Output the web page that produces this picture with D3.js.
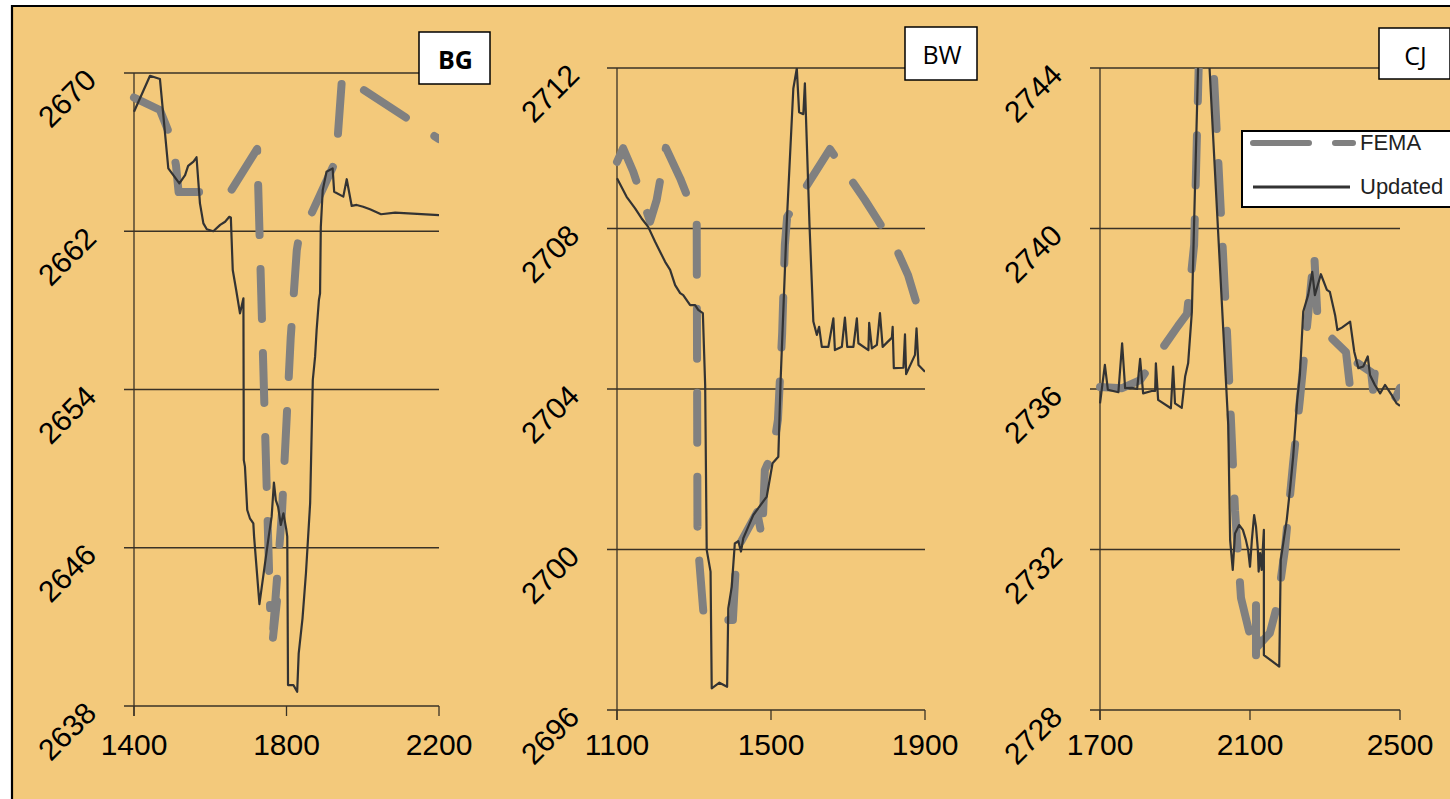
<!DOCTYPE html>
<html>
<head>
<meta charset="utf-8">
<script src="https://cdn.jsdelivr.net/npm/d3@7"></script>
<style>
  body { margin: 0; background: #fff; }
  svg { display: block; }
</style>
</head>
<body>
<svg id="chart" width="1450" height="799"></svg>
<script>
// station / x values are along the section, y values are elevations
var panelNames = ["BG", "BW", "CJ"];
var seriesNames = ["FEMA", "Updated"];

var bgXTicks = [1400, 1800, 2200];
var bgYTicks = [2638, 2646, 2654, 2662, 2670];
var bwXTicks = [1100, 1500, 1900];
var bwYTicks = [2696, 2700, 2704, 2708, 2712];
var cjXTicks = [1700, 2100, 2500];
var cjYTicks = [2728, 2732, 2736, 2740, 2744];

var bgFema = [[1400,2668.76],[1468,2668.13],[1494,2666.87],[1510,2665.35],[1517,2663.98],[1652,2663.98],
  [1723,2666.16],[1757,2642.95],[1775,2643.31],[1761,2640.83],[1788,2647.76],[1811,2656.6],[1827,2661.05],
  [1830,2661.4],[1930,2665.6],[1946,2669.85],[2200,2666.66]];
var bgUpdated = [[1400,2668.04],[1442,2669.86],[1468,2669.7],[1490,2665.18],[1519,2664.42],[1534,2664.84],
  [1542,2665.3],[1556,2665.52],[1564,2665.74],[1573,2663.41],[1582,2662.4],[1591,2662.1],[1608,2662.0],
  [1626,2662.32],[1639,2662.48],[1650,2662.73],[1654,2662.7],[1659,2660.04],[1668,2659.03],[1678,2657.85],
  [1682,2658.18],[1687,2658.61],[1688,2650.43],[1691,2650.1],[1697,2647.91],[1704,2647.49],[1713,2647.23],
  [1715,2646.56],[1729,2643.15],[1752,2646.39],[1761,2647.57],[1767,2649.29],[1772,2648.41],[1778,2648.07],
  [1785,2647.15],[1792,2647.74],[1799,2646.98],[1802,2646.56],[1804,2639.06],[1818,2639.06],[1828,2638.72],
  [1832,2640.66],[1842,2642.43],[1851,2644.71],[1862,2648.25],[1869,2654.48],[1875,2655.66],[1879,2657.0],
  [1885,2658.52],[1888,2658.86],[1890,2662.23],[1895,2664.08],[1905,2665.01],[1921,2665.18],[1925,2664.0],
  [1949,2663.75],[1958,2664.63],[1971,2663.28],[1984,2663.33],[2001,2663.24],[2019,2663.11],[2048,2662.86],
  [2085,2662.94],[2200,2662.82]];

var bwFema = [[1100,2709.66],[1116,2710.0],[1142,2709.42],[1186,2708.17],[1203,2708.71],[1227,2710.01],
  [1264,2709.25],[1297,2708.46],[1307,2708.21],[1309,2700.57],[1313,2699.79],[1326,2698.24],[1401,2698.24],
  [1409,2699.66],[1422,2700.19],[1464,2700.93],[1477,2700.29],[1484,2701.98],[1505,2702.43],[1518,2703.23],
  [1529,2705.4],[1536,2707.59],[1542,2708.29],[1653,2709.98],[1744,2708.71],[1827,2707.46],[1856,2706.84],
  [1877,2706.17],[1900,2705.97]];
var bwUpdated = [[1100,2709.25],[1125,2708.79],[1147,2708.5],[1164,2708.25],[1181,2708.04],[1199,2707.67],
  [1225,2707.17],[1238,2706.97],[1251,2706.59],[1264,2706.39],[1272,2706.34],[1290,2706.09],[1303,2706.09],
  [1311,2705.97],[1323,2705.89],[1329,2704.1],[1333,2699.99],[1343,2699.45],[1346,2696.54],[1366,2696.68],
  [1386,2696.58],[1389,2698.53],[1398,2699.07],[1406,2700.15],[1415,2700.21],[1422,2699.95],[1428,2700.28],
  [1441,2700.57],[1454,2700.86],[1467,2701.03],[1489,2701.32],[1504,2702.15],[1519,2702.31],[1525,2704.22],
  [1541,2708.17],[1558,2711.49],[1567,2711.99],[1573,2710.9],[1584,2710.85],[1588,2711.62],[1600,2708.09],
  [1610,2705.68],[1619,2705.35],[1625,2705.55],[1632,2705.05],[1649,2705.05],[1662,2705.76],[1666,2704.97],
  [1684,2705.05],[1692,2705.78],[1698,2705.05],[1714,2705.05],[1723,2705.76],[1727,2705.14],[1753,2704.97],
  [1755,2705.65],[1762,2705.01],[1775,2705.1],[1783,2705.89],[1790,2705.05],[1814,2705.28],[1816,2705.55],
  [1819,2704.52],[1844,2704.53],[1848,2705.36],[1851,2704.37],[1874,2704.85],[1878,2705.51],[1883,2704.6],
  [1900,2704.43]];

var cjFema = [[1700,2736.05],[1759,2736.02],[1807,2736.22],[1908,2737.57],[1932,2737.87],[1951,2739.59],
  [1964,2744.32],[2001,2744.32],[2039,2737.35],[2060,2732.98],[2076,2730.79],[2116,2729.25],[2116,2730.62],
  [2119,2729.57],[2153,2729.92],[2172,2730.59],[2193,2731.99],[2215,2734.16],[2233,2735.73],[2255,2737.84],
  [2271,2739.41],[2281,2737.6],[2356,2736.92],[2367,2736.02],[2383,2736.67],[2423,2736.42],[2428,2735.98],
  [2433,2736.42],[2489,2735.78],[2500,2736.03]];
var cjUpdated = [[1700,2735.64],[1713,2736.6],[1721,2735.98],[1749,2735.92],[1759,2737.14],[1767,2736.02],
  [1785,2736.03],[1799,2736.0],[1807,2736.75],[1815,2735.89],[1838,2735.95],[1847,2735.95],[1849,2736.64],
  [1855,2735.73],[1889,2735.52],[1895,2736.56],[1900,2735.64],[1918,2735.53],[1927,2736.31],[1935,2736.64],
  [1945,2737.93],[1951,2740.17],[1962,2744.2],[1991,2744.2],[2042,2735.1],[2047,2732.24],[2054,2731.49],
  [2060,2732.4],[2071,2732.61],[2081,2732.49],[2089,2732.24],[2095,2731.99],[2100,2731.57],[2105,2732.24],
  [2111,2732.86],[2116,2732.57],[2121,2731.99],[2123,2731.45],[2127,2731.91],[2131,2731.49],[2137,2732.49],
  [2137,2729.37],[2178,2729.08],[2182,2731.74],[2198,2732.74],[2207,2733.53],[2215,2734.31],[2226,2735.73],
  [2233,2736.35],[2242,2737.93],[2255,2738.34],[2266,2738.92],[2273,2738.34],[2289,2738.86],[2305,2738.47],
  [2313,2738.42],[2327,2737.84],[2333,2737.47],[2345,2737.53],[2367,2737.68],[2378,2736.93],[2389,2736.52],
  [2402,2736.56],[2414,2736.81],[2420,2736.35],[2433,2736.1],[2447,2735.89],[2460,2736.1],[2478,2735.85],
  [2491,2735.64],[2500,2735.58]];

var svg = d3.select("#chart");
var bg = "#f3c97b";
var ink = "#3a3226";

// orange sheet with black frame on top and left
svg.append("rect").attr("x", 12).attr("y", 6).attr("width", 1440).attr("height", 795).attr("fill", bg);
svg.append("path").attr("d", "M12,800V6H1450").attr("fill", "none").attr("stroke", "#000").attr("stroke-width", 2.2);

var panels = [
  { name: panelNames[0], xt: bgXTicks, yt: bgYTicks, fema: bgFema, upd: bgUpdated,
    left: 134, right: 439, top: 73, bottom: 706, box: [419, 32, 71, 52], bold: true },
  { name: panelNames[1], xt: bwXTicks, yt: bwYTicks, fema: bwFema, upd: bwUpdated,
    left: 617, right: 925, top: 68, bottom: 710, box: [905, 27, 72, 53], bold: false },
  { name: panelNames[2], xt: cjXTicks, yt: cjYTicks, fema: cjFema, upd: cjUpdated,
    left: 1100, right: 1400, top: 68, bottom: 710, box: [1379, 28, 71, 51], bold: false }
];

panels.forEach(function(p, i) {
  var x = d3.scaleLinear().domain(d3.extent(p.xt)).range([p.left, p.right]);
  var y = d3.scaleLinear().domain(d3.extent(p.yt)).range([p.bottom, p.top]);
  var g = svg.append("g");

  // horizontal gridlines incl. the little tick stub left of the axis
  g.selectAll(".grid").data(p.yt).enter().append("line")
    .attr("x1", p.left - 10).attr("x2", p.right)
    .attr("y1", function(d) { return y(d); }).attr("y2", function(d) { return y(d); })
    .attr("stroke", ink).attr("stroke-width", 1.3);

  g.append("line").attr("x1", p.left).attr("x2", p.left)
    .attr("y1", p.top).attr("y2", p.bottom + 10)
    .attr("stroke", ink).attr("stroke-width", 1.3);

  g.selectAll(".xtick").data(p.xt).enter().append("line")
    .attr("x1", function(d) { return x(d); }).attr("x2", function(d) { return x(d); })
    .attr("y1", p.bottom).attr("y2", p.bottom + 10)
    .attr("stroke", ink).attr("stroke-width", 1.3);

  g.selectAll(".xlab").data(p.xt).enter().append("text")
    .attr("x", function(d) { return x(d); }).attr("y", 755)
    .attr("text-anchor", "middle")
    .style("font-family", "'Liberation Sans', Arial, sans-serif").style("font-size", "30px")
    .text(function(d) { return d; });

  g.selectAll(".ylab").data(p.yt).enter().append("text")
    .attr("transform", function(d) { return "translate(" + (p.left - 36) + "," + (y(d) + 9) + ") rotate(-45)"; })
    .attr("text-anchor", "end")
    .style("font-family", "'Liberation Sans', Arial, sans-serif").style("font-size", "30px")
    .text(function(d) { return d; });

  var clipId = "clip" + i;
  svg.append("clipPath").attr("id", clipId).append("rect")
    .attr("x", p.left - 6).attr("y", p.top).attr("width", p.right - p.left + 6).attr("height", p.bottom - p.top);

  var line = d3.line().x(function(d) { return x(d[0]); }).y(function(d) { return y(d[1]); });
  var lines = g.append("g").attr("clip-path", "url(#" + clipId + ")");

  lines.append("path").datum(p.fema).attr("d", line)
    .attr("fill", "none").attr("stroke", "#808080").attr("stroke-width", 8)
    .attr("stroke-linecap", "round").attr("stroke-linejoin", "round")
    .attr("stroke-dasharray", "50,34");

  lines.append("path").datum(p.upd).attr("d", line)
    .attr("fill", "none").attr("stroke", "#333").attr("stroke-width", 2.2)
    .attr("stroke-linejoin", "round");

  // title box
  g.append("rect").attr("x", p.box[0]).attr("y", p.box[1]).attr("width", p.box[2]).attr("height", p.box[3])
    .attr("fill", "#fff").attr("stroke", "#000").attr("stroke-width", 1.5);
  g.append("text")
    .attr("x", p.box[0] + p.box[2] / 2 + 1).attr("y", p.box[1] + 37)
    .attr("text-anchor", "middle")
    .style("font-family", "'Open Sans', sans-serif").style("font-size", "25px")
    .style("font-weight", p.bold ? "bold" : "normal")
    .text(p.name);
});

// legend (sits in the CJ panel, runs off the right edge)
var lg = svg.append("g");
lg.append("rect").attr("x", 1242).attr("y", 131).attr("width", 230).attr("height", 76)
  .attr("fill", "#fff").attr("stroke", "#000").attr("stroke-width", 2);
lg.append("line").attr("x1", 1253).attr("x2", 1353).attr("y1", 143).attr("y2", 143)
  .attr("stroke", "#808080").attr("stroke-width", 6).attr("stroke-linecap", "round")
  .attr("stroke-dasharray", "56,26");
lg.append("line").attr("x1", 1253).attr("x2", 1350).attr("y1", 187).attr("y2", 187)
  .attr("stroke", "#333").attr("stroke-width", 3);
lg.selectAll(".lt").data(seriesNames).enter().append("text")
  .attr("x", 1360).attr("y", function(d, i) { return i ? 194 : 150; })
  .style("font-family", "'Liberation Sans', Arial, sans-serif").style("font-size", "22px")
  .attr("fill", "#222")
  .text(function(d) { return d; });
</script>
</body>
</html>
